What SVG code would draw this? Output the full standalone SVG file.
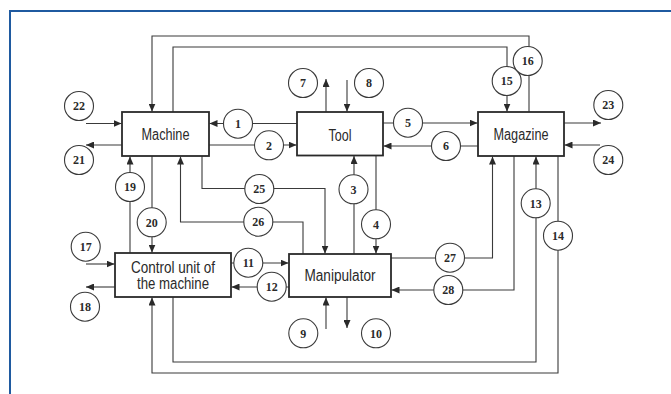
<svg xmlns="http://www.w3.org/2000/svg" width="671" height="394" viewBox="0 0 671 394">
<style>
.box{fill:#fff;stroke:#2a2a2a;stroke-width:1.8}
.lbl{font-family:"Liberation Sans",Arial,sans-serif;font-size:16px;fill:#2a2a2a;text-anchor:middle}
.ln{fill:none;stroke:#3a3a3a;stroke-width:1.1}
.arr{marker-end:url(#ah)}
.c{fill:#fff;stroke:#3a3a3a;stroke-width:1.1}
.n{font-family:"Liberation Serif","Times New Roman",serif;font-size:12px;font-weight:bold;fill:#2a2a2a;text-anchor:middle}
</style>
<defs>
<marker id="ah" markerUnits="userSpaceOnUse" markerWidth="8" markerHeight="7" refX="8" refY="3.5" orient="auto">
<path d="M0,0 L8,3.5 L0,7 z" fill="#2a2a2a"/>
</marker>
</defs>
<rect x="0" y="0" width="671" height="394" fill="#fff"/>
<path d="M10,394 V11 H671" fill="none" stroke="#1f5aa0" stroke-width="2"/>

<g id="connectors">
<path class="ln arr" d="M297,123.5 H209.5"/>
<path class="ln arr" d="M209,145 H296.5"/>
<path class="ln arr" d="M354,254 V156"/>
<path class="ln arr" d="M376,156 V253.5"/>
<path class="ln arr" d="M383,123 H477.5"/>
<path class="ln arr" d="M478,146 H383.5"/>
<path class="ln arr" d="M326,112 V79"/>
<path class="ln arr" d="M347,80 V111.5"/>
<path class="ln arr" d="M326,329 V297.5"/>
<path class="ln arr" d="M347,297 V328"/>
<path class="ln arr" d="M231,263 H288.5"/>
<path class="ln arr" d="M289,287 H231.5"/>
<path class="ln arr" d="M173,297 V362 H536 V156.5"/>
<path class="ln arr" d="M558,156 V373 H152 V297.5"/>
<path class="ln arr" d="M173,112 V47 H507 V111.5"/>
<path class="ln arr" d="M529,112 V36 H152 V111.5"/>
<path class="ln arr" d="M86,264 H114.5"/>
<path class="ln arr" d="M115,287 H86"/>
<path class="ln arr" d="M130,253 V156.5"/>
<path class="ln arr" d="M152,156 V252.5"/>
<path class="ln arr" d="M122,145 H86"/>
<path class="ln arr" d="M86,123.5 H121.5"/>
<path class="ln arr" d="M564,123 H601"/>
<path class="ln arr" d="M600,145 H564.5"/>
<path class="ln arr" d="M202,156 V188.5 H325 V253.5"/>
<path class="ln arr" d="M303,254 V222 H180.5 V156.5"/>
<path class="ln arr" d="M391,258 H492.5 V156.5"/>
<path class="ln arr" d="M514,156 V290 H391.5"/>
</g>

<g id="Machine"><rect class="box" x="122" y="112" width="87" height="44"/><text class="lbl" x="165.5" y="140" textLength="48" lengthAdjust="spacingAndGlyphs">Machine</text></g>
<g id="Tool"><rect class="box" x="297" y="112" width="86" height="43.5"/><text class="lbl" x="340" y="140.5" textLength="23" lengthAdjust="spacingAndGlyphs">Tool</text></g>
<g id="Magazine"><rect class="box" x="478" y="112" width="86" height="44"/><text class="lbl" x="521" y="139.5" textLength="55" lengthAdjust="spacingAndGlyphs">Magazine</text></g>
<g id="ControlUnit"><rect class="box" x="115" y="253" width="116" height="44"/><text class="lbl" x="173" y="273" textLength="84" lengthAdjust="spacingAndGlyphs">Control unit of</text><text class="lbl" x="173" y="288.5" textLength="72" lengthAdjust="spacingAndGlyphs">the machine</text></g>
<g id="Manipulator"><rect class="box" x="289" y="254" width="102" height="43"/><text class="lbl" x="340" y="281" textLength="71" lengthAdjust="spacingAndGlyphs">Manipulator</text></g>

<g id="labels">
<g><circle class="c" cx="238" cy="123.7" r="14.5"/><text class="n" x="238" y="128">1</text></g>
<g><circle class="c" cx="269" cy="145.3" r="14.5"/><text class="n" x="269" y="149.6">2</text></g>
<g><circle class="c" cx="353.5" cy="189.3" r="14.5"/><text class="n" x="353.5" y="193.6">3</text></g>
<g><circle class="c" cx="376" cy="224.3" r="14.5"/><text class="n" x="376" y="228.6">4</text></g>
<g><circle class="c" cx="408" cy="122.7" r="14.5"/><text class="n" x="408" y="127">5</text></g>
<g><circle class="c" cx="446" cy="146" r="14.5"/><text class="n" x="446" y="150.3">6</text></g>
<g><circle class="c" cx="303" cy="83" r="14.5"/><text class="n" x="303" y="87.3">7</text></g>
<g><circle class="c" cx="369" cy="83" r="14.5"/><text class="n" x="369" y="87.3">8</text></g>
<g><circle class="c" cx="303.3" cy="333.3" r="14.5"/><text class="n" x="303.3" y="337.6">9</text></g>
<g><circle class="c" cx="376" cy="333.3" r="14.5"/><text class="n" x="376" y="337.6">10</text></g>
<g><circle class="c" cx="248.3" cy="262.7" r="14.5"/><text class="n" x="248.3" y="267">11</text></g>
<g><circle class="c" cx="271.7" cy="286.7" r="14.5"/><text class="n" x="271.7" y="291">12</text></g>
<g><circle class="c" cx="535.7" cy="203.3" r="14.5"/><text class="n" x="535.7" y="207.6">13</text></g>
<g><circle class="c" cx="558" cy="235.7" r="14.5"/><text class="n" x="558" y="240">14</text></g>
<g><circle class="c" cx="506.7" cy="81" r="14.5"/><text class="n" x="506.7" y="85.3">15</text></g>
<g><circle class="c" cx="527.7" cy="61" r="14.5"/><text class="n" x="527.7" y="65.3">16</text></g>
<g><circle class="c" cx="85.7" cy="246.7" r="14.5"/><text class="n" x="85.7" y="251">17</text></g>
<g><circle class="c" cx="85" cy="306.7" r="14.5"/><text class="n" x="85" y="311">18</text></g>
<g><circle class="c" cx="130" cy="187" r="14.5"/><text class="n" x="130" y="191.3">19</text></g>
<g><circle class="c" cx="151.7" cy="222.3" r="14.5"/><text class="n" x="151.7" y="226.6">20</text></g>
<g><circle class="c" cx="79" cy="160" r="14.5"/><text class="n" x="79" y="164.3">21</text></g>
<g><circle class="c" cx="79" cy="106" r="14.5"/><text class="n" x="79" y="110.3">22</text></g>
<g><circle class="c" cx="608.3" cy="105" r="14.5"/><text class="n" x="608.3" y="109.3">23</text></g>
<g><circle class="c" cx="608.3" cy="160" r="14.5"/><text class="n" x="608.3" y="164.3">24</text></g>
<g><circle class="c" cx="259.3" cy="189" r="14.5"/><text class="n" x="259.3" y="193.3">25</text></g>
<g><circle class="c" cx="258.3" cy="221.7" r="14.5"/><text class="n" x="258.3" y="226">26</text></g>
<g><circle class="c" cx="450" cy="257.7" r="14.5"/><text class="n" x="450" y="262">27</text></g>
<g><circle class="c" cx="448.3" cy="290" r="14.5"/><text class="n" x="448.3" y="294.3">28</text></g>
</g>
</svg>
